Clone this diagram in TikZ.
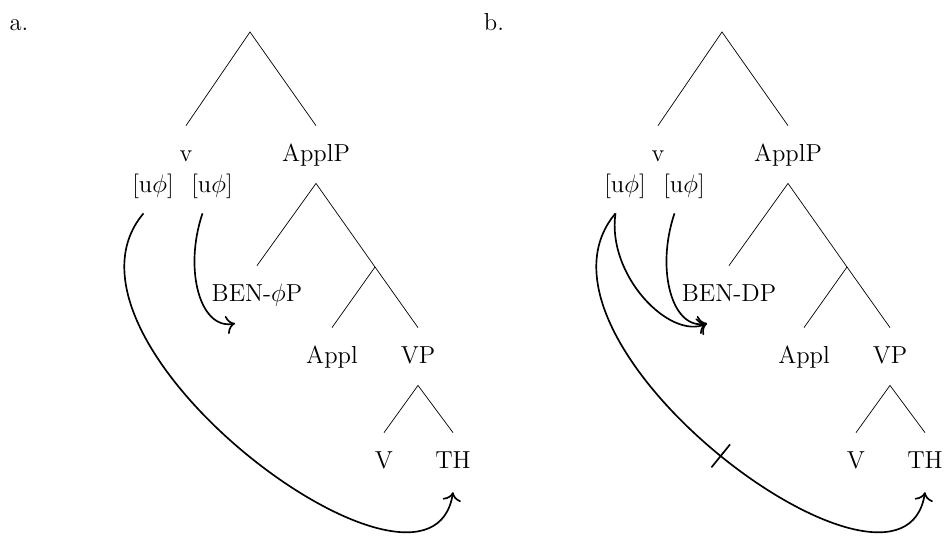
\documentclass[tikz,border=0pt]{standalone}
\usetikzlibrary{arrows.meta}
\begin{document}
\begin{tikzpicture}[x=0.02cm,y=-0.02cm,
    cat/.style={font=\fontsize{14}{17}\selectfont,text height=11.5pt,text depth=3pt,
                inner xsep=1pt,inner ysep=9pt,anchor=base},
    feat/.style={cat,inner ysep=8.4pt},
    agree/.style={-{To[scale=1.35]},line width=0.95pt}]
    \useasboundingbox (0,0) rectangle (948,536);

    % tree a
    \node[cat] (alab) at (19,31) {a.};
    \coordinate (aroot) at (250,32);
    \node[cat] (av) at (186,162) {v};
    \node[cat] (aapplp) at (316,162) {ApplP};
    \node[feat] (afa) at (153,193) {[u$\phi$]};
    \node[feat] (afb) at (212,193) {[u$\phi$]};
    \node[cat] (aben) at (257,302) {BEN-$\phi$P};
    \coordinate (ajn) at (375,267);
    \node[cat] (aappl) at (332,364) {Appl};
    \node[cat] (avp) at (418,364) {VP};
    \node[cat] (aV) at (384,469) {V};
    \node[cat] (ath) at (453,469) {TH};
    \draw (av.north) -- (aroot) -- (aapplp.north);
    \draw (aben.north) -- (aapplp.south) -- (ajn) -- (avp.north);
    \draw (ajn) -- (aappl.north);
    \draw (aV.north) -- (avp.south) -- (ath.north);
    \draw[agree] ([xshift=-0.19cm]afb.south) .. controls +(-19,56) and +(-35,7) .. ([xshift=-0.44cm]aben.south);
    \draw[agree] ([xshift=-0.19cm]afa.south) .. controls +(-110,130) and +(-22,145) .. ([yshift=-1pt]ath.south);

    % tree b
    \node[cat] (blab) at (494,31) {b.};
    \coordinate (broot) at (722,32);
    \node[cat] (bv) at (658,162) {v};
    \node[cat] (bapplp) at (788,162) {ApplP};
    \node[feat] (bfa) at (625,193) {[u$\phi$]};
    \node[feat] (bfb) at (684,193) {[u$\phi$]};
    \node[cat] (bben) at (729,302) {BEN-DP};
    \coordinate (bjn) at (847,267);
    \node[cat] (bappl) at (804,364) {Appl};
    \node[cat] (bvp) at (890,364) {VP};
    \node[cat] (bV) at (856,469) {V};
    \node[cat] (bth) at (925,469) {TH};
    \draw (bv.north) -- (broot) -- (bapplp.north);
    \draw (bben.north) -- (bapplp.south) -- (bjn) -- (bvp.north);
    \draw (bjn) -- (bappl.north);
    \draw (bV.north) -- (bvp.south) -- (bth.north);
    \draw[agree] ([xshift=-0.19cm]bfb.south) .. controls +(-19,56) and +(-35,7) .. ([xshift=-0.44cm]bben.south);
    \draw[agree] ([xshift=-0.19cm]bfa.south) .. controls +(-9,62) and +(-37,17) .. ([xshift=-0.44cm]bben.south);
    \draw[agree] ([xshift=-0.19cm]bfa.south) .. controls +(-110,130) and +(-22,145) .. ([yshift=-1pt]bth.south)
        node[pos=.5,sloped,inner sep=0,minimum height=0.56cm] (bbar) {};
    \draw[line width=0.95pt] (bbar.north) -- (bbar.south);
\end{tikzpicture}
\end{document}
